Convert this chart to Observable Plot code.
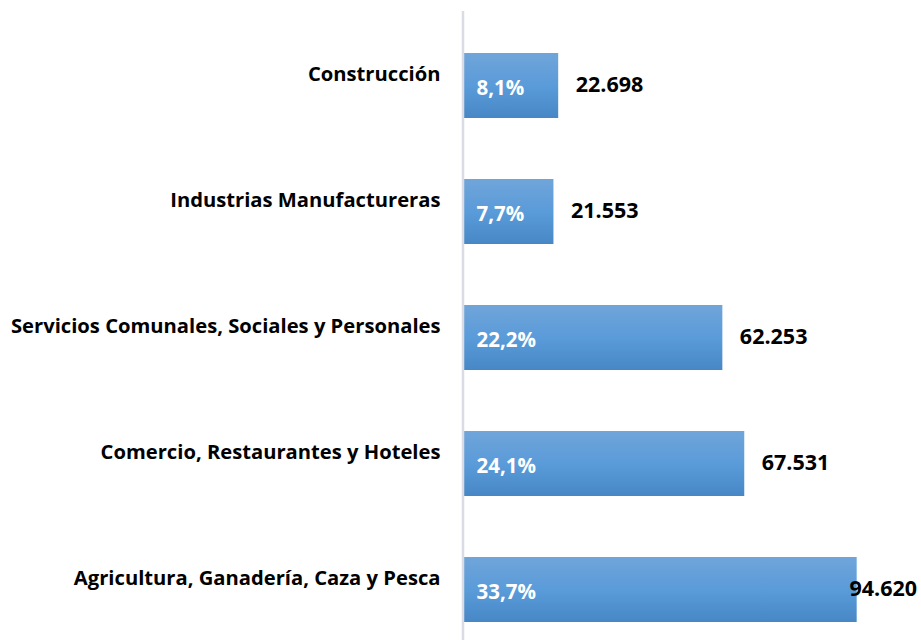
<!DOCTYPE html>
<html>
<head>
<meta charset="utf-8">
<script src="https://cdn.jsdelivr.net/npm/d3@7"></script>
<script src="https://cdn.jsdelivr.net/npm/@observablehq/plot@0.6"></script>
<style>
  html, body { margin: 0; padding: 0; background: #fff; }
  #chart svg { display: block; }
</style>
</head>
<body>
<div id="chart"></div>
<script>
const categories = [
  "Construcción",
  "Industrias Manufactureras",
  "Servicios Comunales, Sociales y Personales",
  "Comercio, Restaurantes y Hoteles",
  "Agricultura, Ganadería, Caza y Pesca"
];
const values = [22698, 21553, 62253, 67531, 94620];
const shares = ["8,1%", "7,7%", "22,2%", "24,1%", "33,7%"];
const valueLabels = ["22.698", "21.553", "62.253", "67.531", "94.620"];

const data = categories.map((c, i) => ({cat: c, value: values[i], share: shares[i], label: valueLabels[i]}));

const FONT = "'Open Sans', Lato, sans-serif";
const W = 921, H = 640;
const XMAX = 100000;
const marginLeft = 464, marginRight = 42;
const pxPerUnit = (W - marginLeft - marginRight) / XMAX;
const labelGap = 17 / pxPerUnit;           // gap after bar end, in data units
const labelLimit = (849 - marginLeft) / pxPerUnit; // keep last label inside the frame

const chart = Plot.plot({
  width: W,
  height: H,
  marginLeft,
  marginRight,
  marginTop: 11,
  marginBottom: 0,
  style: {fontFamily: FONT, background: "#fff"},
  x: {domain: [0, XMAX], axis: null},
  y: {domain: categories, range: [20, 654.5], paddingInner: 0.488, paddingOuter: 0.244, axis: null},
  marks: [
    Plot.barX(data, {y: "cat", x: "value", fill: "url(#barGrad)"}),
    Plot.ruleX([0], {stroke: "#d9dde3", strokeWidth: 2.5, dx: -1.5}),
    Plot.text(data, {
      y: "cat", text: "cat", frameAnchor: "left", textAnchor: "end",
      dx: -24, dy: -11, fontSize: 20.2, fontWeight: "bold", fill: "#000"
    }),
    Plot.text(data, {
      y: "cat", text: "share", frameAnchor: "left", textAnchor: "start",
      dx: 12, dy: 2.5, fontSize: 20.5, fontWeight: "bold", fill: "#fff"
    }),
    Plot.text(data, {
      y: "cat", x: d => Math.min(d.value + labelGap, labelLimit), text: "label",
      textAnchor: "start", dy: -0.5, fontSize: 21.5, fontWeight: "bold", fill: "#000"
    })
  ]
});

const svg = d3.select(chart);
const defs = svg.insert("defs", ":first-child");
const g = defs.append("linearGradient").attr("id", "barGrad")
  .attr("x1", 0).attr("y1", 0).attr("x2", 0).attr("y2", 1);
g.append("stop").attr("offset", "0%").attr("stop-color", "#70a5da");
g.append("stop").attr("offset", "50%").attr("stop-color", "#5a9bd9");
g.append("stop").attr("offset", "100%").attr("stop-color", "#4787c6");

document.getElementById("chart").appendChild(chart);
</script>
</body>
</html>
